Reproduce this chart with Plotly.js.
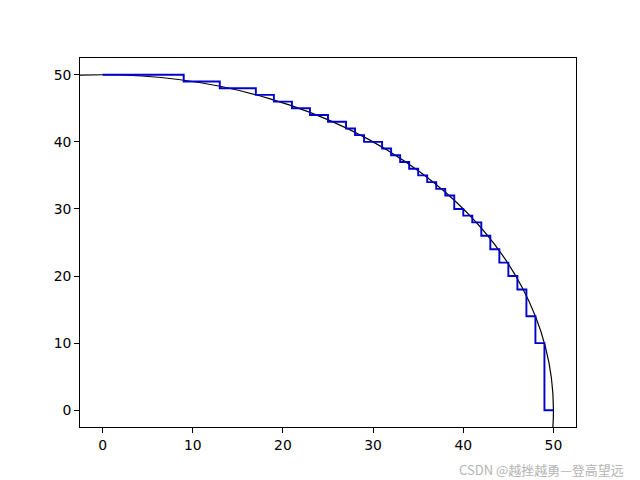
<!DOCTYPE html>
<html>
<head>
<meta charset="utf-8">
<script src="https://cdn.plot.ly/plotly-3.0.1.min.js"></script>
<style>html,body{margin:0;padding:0;background:#fff;}#chart{width:640px;height:480px;}</style>
</head>
<body>
<div id="chart"></div>
<script>
// Staircase (blue): integer x and the step level y
const stepX = [0,1,2,3,4,5,6,7,8,9,10,11,12,13,14,15,16,17,18,19,20,21,22,23,24,25,26,27,28,29,30,31,32,33,34,35,36,37,38,39,40,41,42,43,44,45,46,47,48,49,50];
const stepY = [50,50,50,50,50,50,50,50,50,49,49,49,49,48,48,48,48,47,47,46,46,45,45,44,44,43,43,42,41,40,40,39,38,37,36,35,34,33,32,30,29,28,26,24,22,20,18,14,10,0,0];
// Reference circle (black)
const circleCenter = [0, 0];
const circleRadius = 50;
// Axis ticks
const xTicks = [0,10,20,30,40,50];
const yTicks = [0,10,20,30,40,50];
const xRange = [-2.5, 52.5];
const yRange = [-2.5, 52.5];

const traces = [{
  x: stepX, y: stepY, type: 'scatter', mode: 'lines',
  line: {shape: 'hv', color: '#0000cc', width: 1.9},
  hoverinfo: 'skip', showlegend: false
}];

const font = {family: 'DejaVu Sans, sans-serif', size: 13.9, color: '#000'};
const axisCommon = {
  showgrid: false, zeroline: false, showline: true, linecolor: '#000', linewidth: 1,
  mirror: true, ticks: 'outside', ticklen: 4.9, tickwidth: 1, tickcolor: '#000',
  tickfont: font, fixedrange: true
};

const layout = {
  width: 640, height: 480,
  margin: {l: 80, r: 64, t: 58, b: 53, pad: 0},
  paper_bgcolor: '#fff', plot_bgcolor: '#fff',
  xaxis: Object.assign({}, axisCommon, {range: xRange, tickvals: xTicks, ticktext: xTicks.map(String)}),
  yaxis: Object.assign({}, axisCommon, {range: yRange, tickvals: yTicks, ticktext: yTicks.map(String)}),
  shapes: [{
    type: 'circle', xref: 'x', yref: 'y', layer: 'below',
    x0: circleCenter[0] - circleRadius, x1: circleCenter[0] + circleRadius,
    y0: circleCenter[1] - circleRadius, y1: circleCenter[1] + circleRadius,
    line: {color: '#000', width: 1.2}, fillcolor: 'rgba(0,0,0,0)'
  }],
  annotations: [{
    text: 'CSDN @越挫越勇—登高望远', xref: 'paper', yref: 'paper',
    x: 1.1, y: -0.115, xanchor: 'right', yanchor: 'middle', showarrow: false,
    font: {family: 'Noto Sans CJK SC, sans-serif', size: 13, color: '#b4b4b4'}
  }]
};

Plotly.newPlot('chart', traces, layout, {staticPlot: true, displayModeBar: false});
</script>
</body>
</html>
